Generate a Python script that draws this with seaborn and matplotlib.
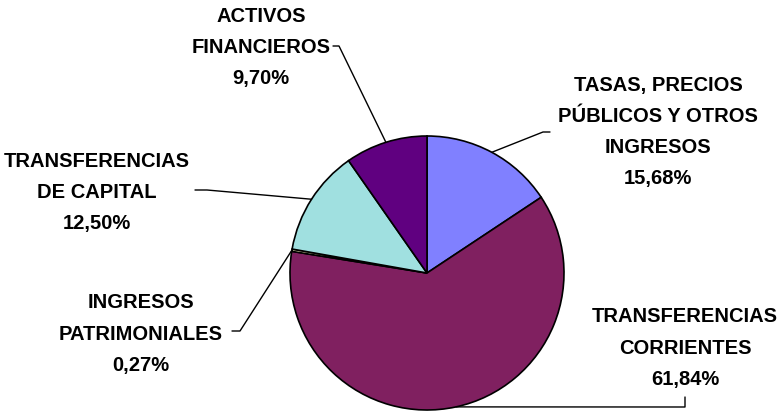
import numpy as np
import matplotlib
matplotlib.use("Agg")
import matplotlib.pyplot as plt
import seaborn as sns

labels = ["TASAS, PRECIOS\nPÚBLICOS Y OTROS\nINGRESOS",
          "TRANSFERENCIAS\nCORRIENTES",
          "INGRESOS\nPATRIMONIALES",
          "TRANSFERENCIAS\nDE CAPITAL",
          "ACTIVOS\nFINANCIEROS"]
values = [15.68, 61.84, 0.27, 12.50, 9.70]
pct_text = ["15,68%", "61,84%", "0,27%", "12,50%", "9,70%"]
colors = ["#8080FF", "#802060", "#FFFFC0", "#A0E0E0", "#600080"]

# label block centres and leader-line start points (pixel layout, y from top)
label_pos = [(658, 132), (685, 348), (141, 334), (97, 192), (261, 47)]
leader_start = [[(550, 132), (543, 132)],
                [(685, 397), (685, 407)],
                [(232, 331), (240, 331)],
                [(195, 190), (207, 190)],
                [(333, 46), (339, 46)]]

W, H = 779, 412
cx, cy, r = 427, H - 273, 137

sns.set_theme(style="white")
plt.rcParams["font.family"] = ["Liberation Sans", "DejaVu Sans"]

fig = plt.figure(figsize=(W / 100, H / 100), dpi=100)
ax = fig.add_axes([0, 0, 1, 1])
wedges, _ = ax.pie(values, colors=colors, startangle=90, counterclock=False,
                   center=(cx, cy), radius=r,
                   wedgeprops=dict(edgecolor="black", linewidth=1.2))
ax.set_xlim(0, W)
ax.set_ylim(0, H)
ax.set_aspect("equal")
ax.axis("off")

for w, lab, pct, (tx, ty), pts in zip(wedges, labels, pct_text, label_pos, leader_start):
    mid = np.deg2rad((w.theta1 + w.theta2) / 2)
    ex, ey = cx + r * np.cos(mid), cy + r * np.sin(mid)
    xs = [p[0] for p in pts] + [ex]
    ys = [H - p[1] for p in pts] + [ey]
    ax.plot(xs, ys, color="black", lw=1)
    ax.text(tx, H - ty, lab + "\n" + pct, ha="center", va="center",
            multialignment="center", fontsize=14.5, fontweight="bold",
            linespacing=1.8, color="black")

plt.savefig("out.png", dpi=100)
